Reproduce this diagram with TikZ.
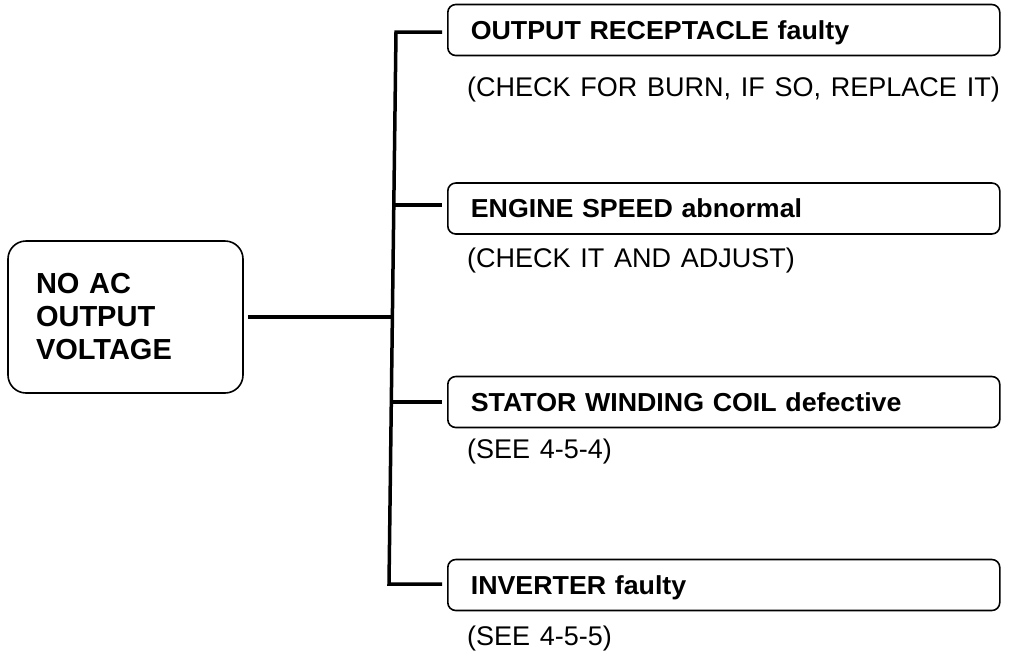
\documentclass[tikz,border=0pt]{standalone}
\usepackage{fontspec}
\setmainfont{Liberation Sans}
\newfontfamily\labfont[FakeStretch=1.03,WordSpace=1.2]{Liberation Sans}
\newfontfamily\subfont[WordSpace=1.3]{Liberation Sans}
\begin{document}
\begin{tikzpicture}[x=1pt,y=-1pt,
  causebox/.style={draw, line width=1.6pt, rounded corners=8pt,
    minimum width=552pt, minimum height=51pt, anchor=west,
    inner xsep=23pt, inner ysep=0pt, text width=506pt, align=left,
    text height=18.6pt, text depth=0pt,
    font=\labfont\bfseries\fontsize{26}{30}\selectfont},
  mainbox/.style={draw, line width=1.6pt, rounded corners=18pt,
    minimum width=235pt, minimum height=152pt,
    inner xsep=28pt, inner ysep=0pt, text width=179pt, align=left,
    font=\bfseries\fontsize{29}{33}\selectfont},
  subtext/.style={anchor=base west, inner sep=0pt,
    font=\subfont\fontsize{27}{31}\selectfont},
  conn/.style={line width=3.5pt, line join=miter}]
\useasboundingbox (0,0) rectangle (1017,651);

\node[mainbox] (main) at (125.5,317) {NO AC\\OUTPUT\\VOLTAGE};

\node[causebox] (c1) at (447,30) {OUTPUT RECEPTACLE faulty};
\node[causebox] (c2) at (447,208.5) {ENGINE SPEED abnormal};
\node[causebox] (c3) at (447,402) {STATOR WINDING COIL defective};
\node[causebox] (c4) at (447,585) {INVERTER faulty};

\node[subtext] (s1) at (467,96) {(CHECK FOR BURN, IF SO, REPLACE IT)};
\node[subtext] (s2) at (467,267) {(CHECK IT AND ADJUST)};
\node[subtext] (s3) at (467,458) {(SEE 4-5-4)};
\node[subtext] (s4) at (467,645) {(SEE 4-5-5)};

\coordinate (ttop) at (396,32);
\coordinate (tbot) at (389,584);
\coordinate (j2) at (395,205);
\coordinate (j3) at (393,402);
\coordinate (jm) at (392,317);

\draw[conn, shorten <=5pt, shorten >=5pt] (ttop -| c1.west) -- (ttop) -- (tbot) -- (tbot -| c4.west);
\draw[conn, shorten >=5pt] (j2) -- (j2 -| c2.west);
\draw[conn, shorten >=5pt] (j3) -- (j3 -| c3.west);
\draw[conn, shorten <=4pt] (jm -| main.east) -- (jm);
\end{tikzpicture}
\end{document}
